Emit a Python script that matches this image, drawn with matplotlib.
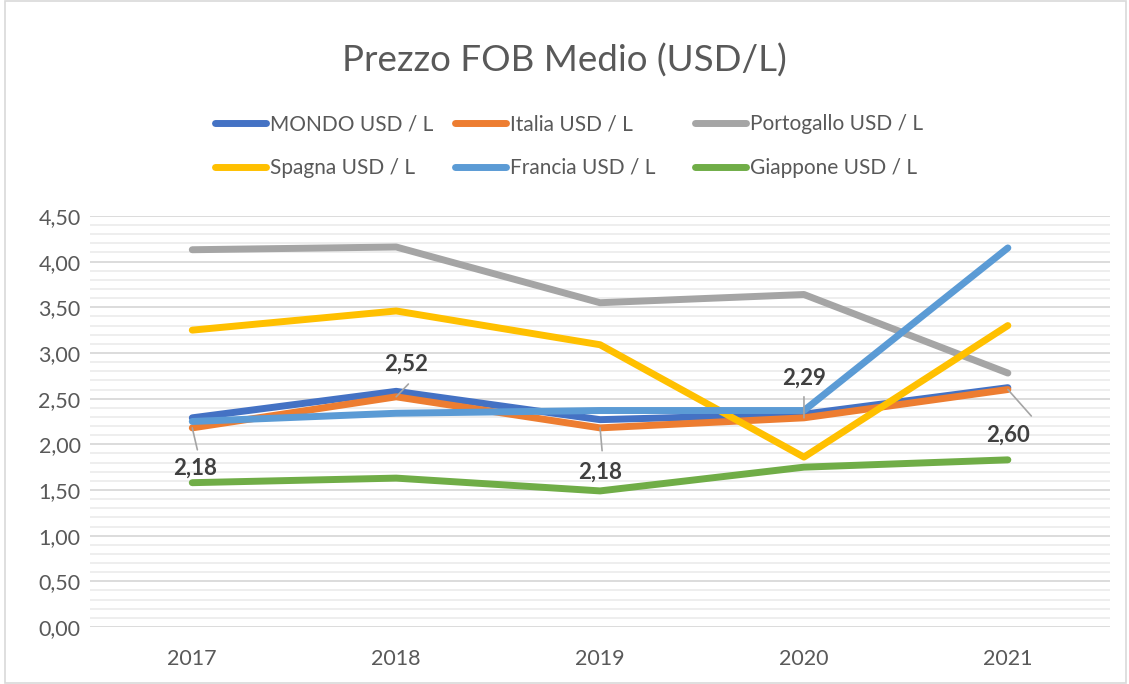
import matplotlib
matplotlib.use("Agg")
import matplotlib.pyplot as plt
from matplotlib.patches import Rectangle
from matplotlib.ticker import MultipleLocator, FuncFormatter

plt.rcParams['font.family'] = ['Lato', 'DejaVu Sans']

# Dati
anni = ["2017", "2018", "2019", "2020", "2021"]
mondo = [2.29, 2.58, 2.27, 2.33, 2.62]
italia = [2.18, 2.52, 2.18, 2.29, 2.60]
portogallo = [4.13, 4.16, 3.55, 3.64, 2.78]
spagna = [3.25, 3.46, 3.09, 1.86, 3.30]
francia = [2.25, 2.34, 2.37, 2.37, 4.15]
giappone = [1.58, 1.63, 1.49, 1.75, 1.83]

serie = [
    ("MONDO USD / L", mondo, "#4472C4"),
    ("Italia USD / L", italia, "#ED7D31"),
    ("Portogallo USD / L", portogallo, "#A5A5A5"),
    ("Spagna USD / L", spagna, "#FFC000"),
    ("Francia USD / L", francia, "#5B9BD5"),
    ("Giappone USD / L", giappone, "#70AD47"),
]

fig = plt.figure(figsize=(11.29, 6.84), dpi=100)
ax = fig.add_axes([0.080, 0.0833, 0.903, 0.601])

x = list(range(len(anni)))
linee = []
for nome, valori, colore in serie:
    l, = ax.plot(x, valori, color=colore, lw=5, solid_capstyle="round",
                 solid_joinstyle="round", label=nome)
    linee.append(l)

ax.set_xlim(-0.5, len(anni) - 0.5)
ax.set_ylim(0, 4.5)
ax.set_xticks(x)
ax.set_xticklabels(anni)
ax.yaxis.set_major_locator(MultipleLocator(0.5))
ax.yaxis.set_minor_locator(MultipleLocator(0.1))
ax.yaxis.set_major_formatter(FuncFormatter(lambda v, p: f"{v:.2f}".replace(".", ",")))
ax.grid(which="major", axis="y", color="#D9D9D9", lw=1.3)
ax.grid(which="minor", axis="y", color="#EDEDED", lw=1.3)
ax.set_axisbelow(True)
for s in ax.spines.values():
    s.set_visible(False)
ax.tick_params(axis="both", which="both", length=0, colors="#595959", labelsize=15.5)
ax.tick_params(axis="x", pad=16)
ax.tick_params(axis="y", pad=7)

# etichette dati Italia (posizione etichetta e fine della linea guida)
pos_etichetta = [(0.015, -0.44), (0.05, 0.36), (0.0, -0.48), (0.0, 0.43), (0.0, -0.50)]
fine_guida = [(0.025, -0.24), (0.06, 0.14), (0.01, -0.25), (0.0, 0.23), (0.115, -0.29)]
for i, v in enumerate(italia):
    dx, dy = pos_etichetta[i]
    ax.text(i + dx, v + dy, f"{v:.2f}".replace(".", ","), ha="center", va="center",
            fontsize=16, fontweight="bold", color="#404040")
    gx, gy = fine_guida[i]
    ax.annotate("", xy=(i, v), xytext=(i + gx, v + gy),
                arrowprops=dict(arrowstyle="-", color="#A5A5A5", lw=1.2,
                                shrinkA=0, shrinkB=0))

fig.suptitle("Prezzo FOB Medio (USD/L)", y=0.937, fontsize=26.5, color="#595959")

# legenda: tre colonne
col_x = [215, 455, 695]
for c in range(3):
    h = [linee[c], linee[c + 3]]
    leg = fig.legend(h, [serie[c][0], serie[c + 3][0]], loc="center left",
                     bbox_to_anchor=(col_x[c] / 1129, 1 - 146 / 684), frameon=False,
                     fontsize=15, labelcolor="#595959", handlelength=2.45,
                     handletextpad=0.2, labelspacing=1.15, borderpad=0,
                     borderaxespad=0)

fig.patches.append(Rectangle((0.004, 0.002), 0.993, 0.996, transform=fig.transFigure,
                             fill=False, edgecolor="#D9D9D9", lw=1.2))

fig.savefig("out.png", dpi=100)
